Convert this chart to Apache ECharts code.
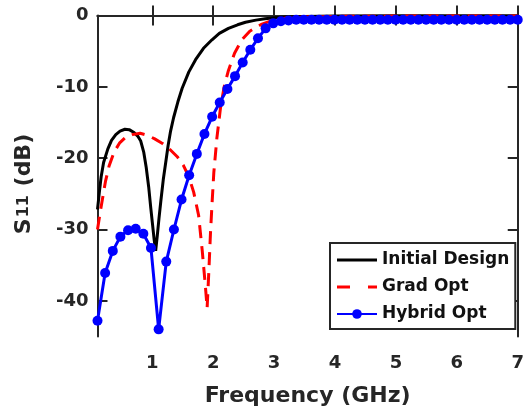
<!DOCTYPE html>
<html>
<head>
<meta charset="utf-8">
<script src="https://cdn.jsdelivr.net/npm/echarts@6/dist/echarts.min.js"></script>
<style>
html,body{margin:0;padding:0;background:#fff;}
#c{width:527px;height:415px;}
</style>
</head>
<body>
<div id="c"></div>
<script>
// ---- data ----
const freqInit = [0.1,0.13,0.16,0.2,0.27,0.33,0.4,0.47,0.55,0.62,0.7,0.76,0.81,0.86,0.9,0.94,0.975,1.0,1.03,1.055,1.08,1.11,1.14,1.18,1.22,1.26,1.3,1.35,1.42,1.49,1.6,1.71,1.84,1.98,2.1,2.25,2.4,2.53,2.7,2.85,3.0,3.2,3.5,4.0,5.0,6.0,7.0];
const s11Init  = [-27.2,-24.8,-22.6,-20.6,-18.7,-17.5,-16.7,-16.2,-15.95,-16.0,-16.4,-16.9,-17.6,-19.2,-21.3,-24.0,-27.0,-29.0,-31.4,-33.0,-31.0,-28.4,-26.0,-23.0,-20.6,-18.2,-16.2,-14.3,-12.1,-10.2,-7.9,-6.2,-4.6,-3.4,-2.5,-1.8,-1.3,-0.95,-0.65,-0.45,-0.32,-0.22,-0.14,-0.08,-0.05,-0.04,-0.04];

const freqGrad = [0.1,0.14,0.18,0.23,0.29,0.37,0.46,0.56,0.67,0.8,0.92,1.04,1.16,1.28,1.41,1.51,1.6,1.68,1.76,1.82,1.87,1.9,1.93,1.955,1.98,2.01,2.06,2.12,2.18,2.25,2.35,2.47,2.6,2.8,3.0,3.2,3.5,4.0,5.0,6.0,7.0];
const s11Grad  = [-30.0,-27.8,-25.8,-23.3,-21.1,-19.2,-17.9,-17.1,-16.7,-16.5,-16.8,-17.3,-17.9,-18.7,-19.8,-21.0,-22.6,-24.8,-28.0,-33.0,-37.8,-41.0,-35.5,-30.5,-26.5,-22.0,-17.2,-12.9,-10.0,-7.7,-5.3,-3.4,-2.2,-1.2,-0.6,-0.35,-0.2,-0.12,-0.08,-0.06,-0.06];

const freqHybrid = [0.100,0.225,0.351,0.476,0.602,0.727,0.853,0.978,1.104,1.229,1.355,1.480,1.605,1.731,1.856,1.982,2.107,2.233,2.358,2.484,2.609,2.735,2.860,2.985,3.111,3.236,3.362,3.487,3.613,3.738,3.864,3.989,4.115,4.240,4.365,4.491,4.616,4.742,4.867,4.993,5.118,5.244,5.369,5.495,5.620,5.745,5.871,5.996,6.122,6.247,6.373,6.498,6.624,6.749,6.875,7.000];
const s11Hybrid  = [-42.8,-36.1,-33.0,-31.0,-30.1,-29.9,-30.6,-32.6,-44.0,-34.5,-30.0,-25.8,-22.4,-19.4,-16.6,-14.2,-12.2,-10.3,-8.5,-6.6,-4.8,-3.2,-1.8,-1.1,-0.8,-0.7,-0.6,-0.6,-0.6,-0.6,-0.6,-0.6,-0.6,-0.6,-0.6,-0.6,-0.6,-0.6,-0.6,-0.6,-0.6,-0.6,-0.6,-0.6,-0.6,-0.6,-0.6,-0.6,-0.6,-0.6,-0.6,-0.6,-0.6,-0.6,-0.6,-0.6];

const xTicks = [1,2,3,4,5,6,7];
const yTicks = [-40,-30,-20,-10,0];
const seriesNames = ['Initial Design','Grad Opt','Hybrid Opt'];

const pairs = (xs, ys) => xs.map((x, i) => [x, ys[i]]);

const FONT = 'DejaVu Sans';
const TXT = '#262626';
const chart = echarts.init(document.getElementById('c'), null, {renderer:'canvas'});

const axisLineStyle = {show:true, lineStyle:{color:TXT, width:2}};
const tickStyle = (vals) => ({show:true, inside:true, length:10, customValues:vals, lineStyle:{color:TXT, width:2}});

chart.setOption({
  animation:false,
  backgroundColor:'#fff',
  grid:{left:97.5, right:5.5, top:15.5, bottom:78.5, containLabel:false},
  xAxis:[{
    type:'value', min:0.1, max:7, position:'bottom',
    axisLine:axisLineStyle, axisTick:tickStyle(xTicks), splitLine:{show:false},
    axisLabel:{customValues:xTicks, margin:18, color:TXT, fontFamily:FONT, fontWeight:'bold', fontSize:18},
    name:'Frequency (GHz)', nameLocation:'middle', nameGap:49,
    nameTextStyle:{color:TXT, fontFamily:FONT, fontWeight:'bold', fontSize:22}
  },{
    type:'value', min:0.1, max:7, position:'top',
    axisLine:axisLineStyle, axisTick:tickStyle(xTicks), splitLine:{show:false},
    axisLabel:{show:false}
  }],
  yAxis:[{
    type:'value', min:-45, max:0, position:'left',
    axisLine:axisLineStyle, axisTick:tickStyle(yTicks), splitLine:{show:false},
    axisLabel:{customValues:yTicks, margin:9, color:TXT, fontFamily:FONT, fontWeight:'bold', fontSize:18},
    name:'{s|S}{sub|11}{s| (dB)}', nameLocation:'middle', nameGap:60, nameRotate:90,
    nameTextStyle:{
      color:TXT, fontFamily:FONT, fontWeight:'bold', fontSize:22, padding:[0,16,0,0],
      rich:{
        s:{color:TXT, fontFamily:FONT, fontWeight:'bold', fontSize:22, lineHeight:27},
        sub:{color:TXT, fontFamily:FONT, fontWeight:'bold', fontSize:16, lineHeight:16, verticalAlign:'middle', padding:[0,1,0,1]}
      }
    }
  },{
    type:'value', min:-45, max:0, position:'right',
    axisLine:axisLineStyle, axisTick:tickStyle(yTicks), splitLine:{show:false},
    axisLabel:{show:false}
  }],
  legend:{
    data:[
      {name:seriesNames[0], icon:'path://M0,0h40v3h-40z', itemStyle:{color:'#000'}},
      {name:seriesNames[1], icon:'path://M0,0h13v3h-13zM31,0h9v3h-9z', itemStyle:{color:'#ff0000'}},
      {name:seriesNames[2]}
    ],
    orient:'vertical', left:330, top:243,
    itemWidth:40, itemHeight:12, itemGap:7, symbolKeepAspect:true,
    padding:[7,6,5,6],
    borderColor:TXT, borderWidth:2, backgroundColor:'#fff',
    textStyle:{color:'#111', fontFamily:FONT, fontWeight:'bold', fontSize:17, lineHeight:20}
  },
  series:[{
    name:seriesNames[0], type:'line', xAxisIndex:0, yAxisIndex:0,
    data:pairs(freqInit, s11Init), showSymbol:false, symbol:'none',
    lineStyle:{color:'#000', width:3}, itemStyle:{color:'#000'}, z:2
  },{
    name:seriesNames[1], type:'line', xAxisIndex:0, yAxisIndex:0,
    data:pairs(freqGrad, s11Grad), showSymbol:false, symbol:'none',
    lineStyle:{color:'#ff0000', width:3, type:[13,8]}, itemStyle:{color:'#ff0000'}, z:3
  },{
    name:seriesNames[2], type:'line', xAxisIndex:0, yAxisIndex:0,
    data:pairs(freqHybrid, s11Hybrid), symbol:'circle', symbolSize:10, showSymbol:true,
    lineStyle:{color:'#0000ff', width:3}, itemStyle:{color:'#0000ff', borderWidth:0}, z:4
  }]
});
</script>
</body>
</html>
